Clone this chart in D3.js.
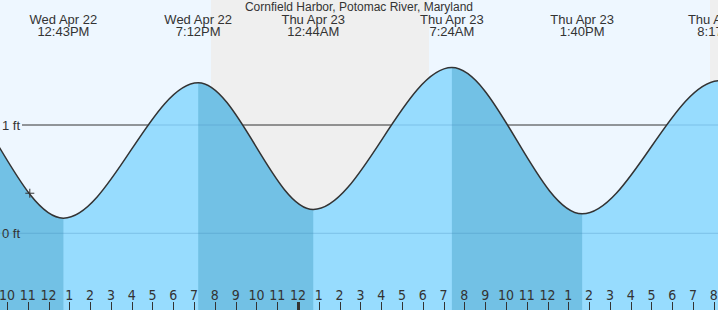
<!DOCTYPE html>
<html>
<head>
<meta charset="utf-8">
<script src="https://cdn.jsdelivr.net/npm/d3@7"></script>
<style>
  body { margin: 0; background: #fff; }
  svg { display: block; }
  text { font-family: "Liberation Sans", Arial, sans-serif; fill: #333; }
</style>
</head>
<body>
<script>
// tide extremes (local time), the first two and the last are outside the view
const tideTimes = ['2026-04-22T00:10', '2026-04-22T06:20', '2026-04-22T12:43', '2026-04-22T19:12',
    '2026-04-23T00:44', '2026-04-23T07:24', '2026-04-23T13:40', '2026-04-23T20:17', '2026-04-24T02:10']
const tideLevels = [0.20, 1.52, 0.14, 1.39, 0.22, 1.53, 0.18, 1.41, 0.20]
const tideTypes = ['L', 'H', 'L', 'H', 'L', 'H', 'L', 'H', 'L']

// night (sunset -> sunrise)
const nightStart = ['2026-04-22T19:49', '2026-04-23T19:49']
const nightEnd = ['2026-04-23T06:18', '2026-04-24T06:18']

// grid levels in ft
const gridLevels = [0, 1]
const gridLabels = ['0 ft', '1 ft']

// current position marker
const nowTime = '2026-04-22T11:06'
const nowLevel = 0.37

const title = 'Cornfield Harbor, Potomac River, Maryland'

const width = 718
const height = 310
const parse = d3.timeParse('%Y-%m-%dT%H:%M')

const tides = tideTimes.map((t, i) => ({ date: parse(t), level: tideLevels[i], type: tideTypes[i] }))

const svg = d3.select('body').append('svg')
    .attr('width', width)
    .attr('height', height)

// scales
const xScale = d3.scaleTime()
    .domain([parse('2026-04-22T09:40'), parse('2026-04-23T20:12')])
    .range([0, width])

const yScale = d3.scaleLinear()
    .domain([0, 1])
    .range([233.3, 125])

// background + night bands
svg.append('rect')
    .attr('width', width)
    .attr('height', height)
    .style('fill', '#eef7ff')

svg.selectAll('.night')
    .data(nightStart.map((s, i) => [parse(s), parse(nightEnd[i])]))
    .join('rect')
        .attr('class', 'night')
        .attr('x', d => xScale(d[0]))
        .attr('width', d => xScale(d[1]) - xScale(d[0]))
        .attr('y', 0)
        .attr('height', height)
        .style('fill', '#efefef')

// grid lines above the water
svg.selectAll('.grid')
    .data(gridLevels)
    .join('line')
        .attr('class', 'grid')
        .attr('x1', 22)
        .attr('x2', width)
        .attr('y1', d => yScale(d))
        .attr('y2', d => yScale(d))
        .style('stroke', '#333')
        .style('stroke-width', 1)

// water
const area = d3.area()
    .x(d => xScale(d.date))
    .y0(height)
    .y1(d => yScale(d.level))
    .curve(d3.curveMonotoneX)

const line = d3.line()
    .x(d => xScale(d.date))
    .y(d => yScale(d.level))
    .curve(d3.curveMonotoneX)

const defs = svg.append('defs')
defs.append('clipPath').attr('id', 'waterClip')
    .append('path').datum(tides).attr('d', area)

// falling tide = from a high to the next low
const ebbs = []
tides.forEach((d, i) => {
    if (d.type === 'H' && i < tides.length - 1) ebbs.push([d.date, tides[i + 1].date])
})
defs.append('clipPath').attr('id', 'ebbClip')
    .selectAll('rect')
    .data(ebbs)
    .join('rect')
        .attr('x', d => xScale(d[0]))
        .attr('width', d => xScale(d[1]) - xScale(d[0]))
        .attr('y', 0)
        .attr('height', height)

svg.append('path')
    .datum(tides)
    .attr('d', area)
    .style('fill', '#97dcfe')

svg.append('path')
    .datum(tides)
    .attr('d', area)
    .attr('clip-path', 'url(#ebbClip)')
    .style('fill', '#72c1e5')

// grid lines seen through the water
svg.append('g')
    .attr('clip-path', 'url(#waterClip)')
    .selectAll('line')
    .data(gridLevels)
    .join('line')
        .attr('x1', 0)
        .attr('x2', width)
        .attr('y1', d => yScale(d))
        .attr('y2', d => yScale(d))
        .style('stroke', 'rgba(60, 130, 180, 0.3)')
        .style('stroke-width', 1)

svg.append('path')
    .datum(tides)
    .attr('d', line)
    .style('fill', 'none')
    .style('stroke', '#333')
    .style('stroke-width', 1.5)

svg.selectAll('.gridLabel')
    .data(gridLevels)
    .join('text')
        .attr('class', 'gridLabel')
        .attr('x', 2)
        .attr('y', d => yScale(d) + 4.5)
        .style('font-size', '13px')
        .text((d, i) => gridLabels[i])

// hour axis
const hours = xScale.ticks(d3.timeHour.every(1))
const hourFmt = d3.timeFormat('%-I')

svg.selectAll('.tick')
    .data(hours)
    .join('line')
        .attr('class', 'tick')
        .attr('x1', d => Math.round(xScale(d)) + 0.5)
        .attr('x2', d => Math.round(xScale(d)) + 0.5)
        .attr('y1', 302)
        .attr('y2', height)
        .style('stroke', '#333')
        .style('stroke-width', d => d.getHours() === 0 ? 3 : 1)

svg.selectAll('.hourLabel')
    .data(hours)
    .join('text')
        .attr('class', 'hourLabel')
        .attr('x', d => xScale(d))
        .attr('y', 300)
        .attr('text-anchor', 'middle')
        .style('font-family', '"Liberation Sans Narrow", "Arial Narrow", "DejaVu Sans Condensed", sans-serif')
        .style('font-size', '14px')
        .text(d => hourFmt(d))

// high / low labels (only the ones inside the view)
const dayFmt = d3.timeFormat('%a %b %-d')
const timeFmt = d3.timeFormat('%-I:%M%p')
const [t0, t1] = xScale.domain()

const tideLabel = svg.selectAll('.tideLabel')
    .data(tides.filter(d => d.date >= t0 && d.date <= d3.timeHour.offset(t1, 1)))
    .join('text')
        .attr('class', 'tideLabel')
        .attr('text-anchor', 'middle')
        .style('font-size', '13px')

tideLabel.append('tspan')
    .attr('x', d => xScale(d.date))
    .attr('y', 24)
    .text(d => dayFmt(d.date))

tideLabel.append('tspan')
    .attr('x', d => xScale(d.date))
    .attr('y', 36)
    .text(d => timeFmt(d.date))

svg.append('text')
    .attr('x', 359)
    .attr('y', 11)
    .attr('text-anchor', 'middle')
    .style('font-size', '12px')
    .text(title)

// marker
const mx = xScale(parse(nowTime))
const my = yScale(nowLevel)
svg.append('path')
    .attr('d', `M${mx - 4.5},${my}H${mx + 4.5}M${mx},${my - 4.5}V${my + 4.5}`)
    .style('stroke', '#333')
    .style('stroke-width', 1)
</script>
</body>
</html>
